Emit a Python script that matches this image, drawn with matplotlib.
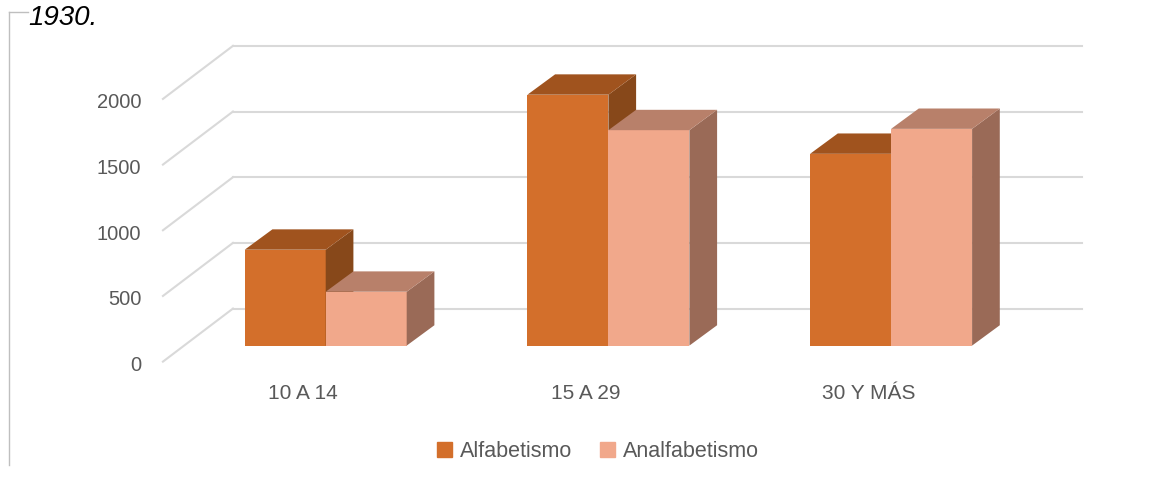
import matplotlib.pyplot as plt
from matplotlib.patches import Polygon
from matplotlib.lines import Line2D

plt.rcParams["font.family"] = ["Liberation Sans", "DejaVu Sans"]

CATEGORIES = ["10 A 14", "15 A 29", "30 Y MÁS"]
SERIES = ["Alfabetismo", "Analfabetismo"]
ALFABETISMO = [730, 1910, 1460]
ANALFABETISMO = [410, 1640, 1650]
Y_TICKS = [0, 500, 1000, 1500, 2000]
TITLE = "1930."

FRONT = ["#D36F2B", "#F1A88B"]
TOP = ["#A0531E", "#B8806A"]
SIDE = ["#87481A", "#9A6A57"]
GRID = "#D9D9D9"
TEXT = "#595959"

BAR_W = 0.2865
# oblique projection offsets (data units)
DEPTH_X, DEPTH_Y = 0.098, 155      # bar depth
BACK_X, BACK_Y = 0.173, 282        # bar plane -> back wall
FRONT_X, FRONT_Y = -0.0747, -122   # bar plane -> floor front edge
WALL_L, WALL_R = -0.328, 2.675


def draw_bar(ax, x0, h, i):
    x1 = x0 + BAR_W
    ax.bar(x0, h, width=BAR_W, align="edge", color=FRONT[i], zorder=3,
           edgecolor="none")
    top = [(x0, h), (x1, h), (x1 + DEPTH_X, h + DEPTH_Y), (x0 + DEPTH_X, h + DEPTH_Y)]
    side = [(x1, 0), (x1 + DEPTH_X, DEPTH_Y), (x1 + DEPTH_X, h + DEPTH_Y), (x1, h)]
    ax.add_patch(Polygon(side, closed=True, color=SIDE[i], zorder=3, lw=0))
    ax.add_patch(Polygon(top, closed=True, color=TOP[i], zorder=3, lw=0))


def main():
    fig = plt.figure(figsize=(11.68, 4.83), dpi=100)
    ax = fig.add_axes([0, 0, 1, 1])
    ax.set_xlim(-1.1521, 2.9795)
    ax.set_ylim(-1046, 2631)
    ax.axis("off")

    # back wall gridlines, floor-side diagonals and tick labels
    for v in Y_TICKS:
        ax.plot([WALL_L, WALL_R], [v + BACK_Y, v + BACK_Y], color=GRID, lw=1.5, zorder=1)
        ax.plot([WALL_L - (BACK_X - FRONT_X), WALL_L],
                [v + FRONT_Y, v + BACK_Y], color=GRID, lw=1.5, zorder=1)
        ax.text(-0.652, v + FRONT_Y - 30, str(v), ha="right", va="center",
                fontsize=14.5, color=TEXT)

    for g, cat in enumerate(CATEGORIES):
        draw_bar(ax, g - BAR_W, ALFABETISMO[g], 0)
        draw_bar(ax, g, ANALFABETISMO[g], 1)
        ax.text(g - 0.08, -365, cat, ha="center", va="center", fontsize=15, color=TEXT)

    handles = [plt.Rectangle((0, 0), 1, 1, color=c) for c in FRONT]
    fig.legend(handles, SERIES, loc="center", bbox_to_anchor=(0.512, 0.066),
               ncol=2, frameon=False, fontsize=15.5, handlelength=0.7,
               handleheight=0.7, handletextpad=0.35, columnspacing=1.3,
               labelcolor=TEXT)

    fig.text(0.024, 0.962, TITLE, fontsize=20, style="italic", color="black",
             ha="left", va="center")
    fig.add_artist(Line2D([0.008, 0.008], [0.038, 0.975], color="#BFBFBF", lw=1))
    fig.add_artist(Line2D([0.008, 0.024], [0.975, 0.975], color="#BFBFBF", lw=1))

    fig.savefig("out.png", dpi=100)


if __name__ == "__main__":
    main()
